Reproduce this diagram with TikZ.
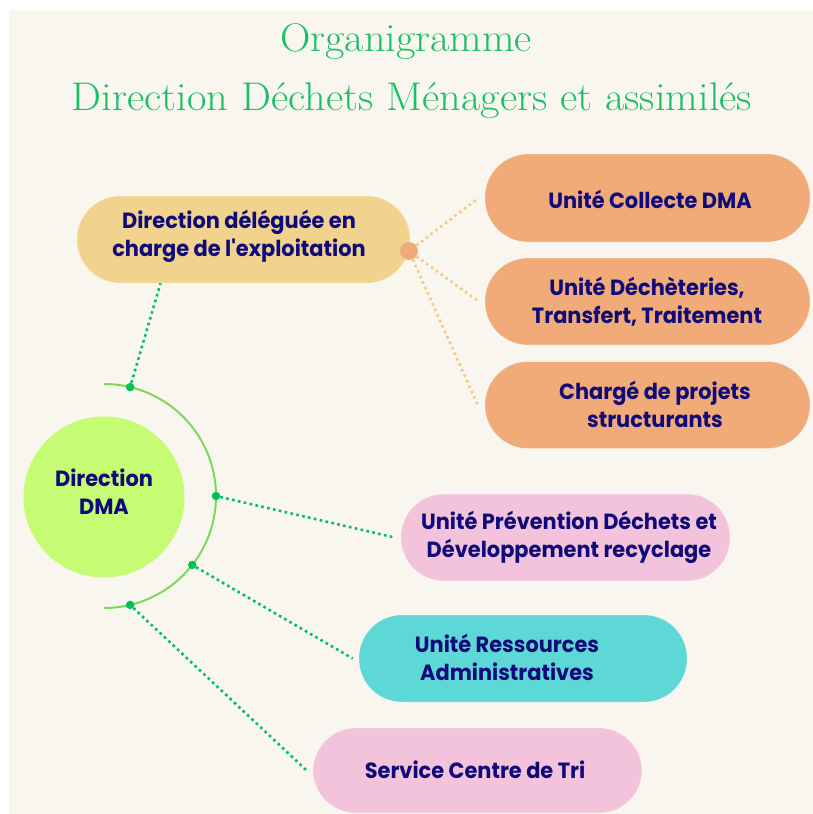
\documentclass[tikz,border=0pt]{standalone}
\usepackage{fontspec}
\newfontfamily\pop{Poppins}[FakeStretch=0.95]
\usetikzlibrary{calc}
\definecolor{bg}{HTML}{F8F6EE}
\definecolor{tgreen}{HTML}{1CC064}
\definecolor{navy}{HTML}{10097A}
\definecolor{dgreen}{HTML}{00C05E}
\definecolor{agreen}{HTML}{7DD85C}
\definecolor{lime}{HTML}{C5FC73}
\definecolor{ylw}{HTML}{F1D38D}
\definecolor{orng}{HTML}{F0AB79}
\definecolor{odot}{HTML}{F5C985}
\definecolor{pink}{HTML}{F2C3DB}
\definecolor{cyan}{HTML}{5DD8D6}
\begin{document}
\begin{tikzpicture}[x=1pt,y=-1pt,
  pill/.style={rounded corners=43pt, minimum height=87pt, inner sep=0pt, draw=white, draw opacity=0.4, line width=0.6pt},
  lbl/.style={align=center, text=navy, font=\pop\bfseries\fontsize{22}{28}\selectfont, inner sep=0pt},
  gdots/.style={dgreen, line width=2.6pt, dash pattern=on 2.6pt off 3.4pt},
  odots/.style={odot, line width=2.6pt, dash pattern=on 2.6pt off 3.4pt},
  arcdot/.style={circle, fill=dgreen, minimum size=8.5pt, inner sep=0pt},
  ttl/.style={text=tgreen, font=\fontsize{40}{40}\selectfont, inner sep=0pt, anchor=base}]
\useasboundingbox (0,0) rectangle (813,814);
\fill[white] (0,0) rectangle (813,814);
\fill[bg] (9,10) rectangle (813,814);
% title
\node[ttl] (t1) at (406,51) {\resizebox{252pt}{\height}{Organigramme}};
\node[ttl] (t2) at (412,110) {\resizebox{680pt}{\height}{Direction Déchets Ménagers et assimilés}};
% central circle and arc
\node[circle, fill=lime, minimum size=161pt, inner sep=0pt] (dma) at (104,497) {};
\node[lbl] (dmat) at (104,492) {Direction\\DMA};
\coordinate (c) at (104,496);
\draw[agreen, line width=2pt] (c) ++(-90:112) arc[start angle=-90, end angle=90, radius=112];
% pills
\node[pill, fill=ylw, minimum width=333pt] (deleg) at (243.5,239.5) {};
\node[lbl] (delegt) at (239,236) {Direction déléguée en\\charge de l'exploitation};
\node[pill, fill=orng, minimum width=325pt, minimum height=88pt] (u1) at (647.5,198) {};
\node[lbl] (u1t) at (650,199) {Unité Collecte DMA};
\node[pill, fill=orng, minimum width=325pt] (u2) at (647.5,301.5) {};
\node[lbl] (u2t) at (647,302) {Unité Déchèteries,\\Transfert, Traitement};
\node[pill, fill=orng, minimum width=325pt] (u3) at (647.5,405) {};
\node[lbl] (u3t) at (655,404) {Chargé de projets\\structurants};
\node[pill, fill=pink, minimum width=329pt] (prev) at (565.5,537.5) {};
\node[lbl] (prevt) at (569,537) {Unité Prévention Déchets et\\Développement recyclage};
\node[pill, fill=cyan, minimum width=328pt] (ura) at (523,658.5) {};
\node[lbl] (urat) at (507,657) {Unité Ressources\\Administratives};
\node[pill, fill=pink, minimum width=329pt, minimum height=85pt] (sct) at (477.5,770.5) {};
\node[lbl] (sctt) at (475,770) {Service Centre de Tri};
% orange hub and connectors
\node[circle, fill=orng, minimum size=18pt, inner sep=0pt] (od) at (409,251) {};
\draw[odots] (od) -- ([xshift=-6pt]u1.west);
\draw[odots] (od) -- ([xshift=-6pt]u2.west);
\draw[odots] (od) -- ([xshift=-7pt]u3.west);
% arc dots
\node[arcdot] (d1) at ($(c)+(-76.5:112)$) {};
\node[arcdot] (d2) at ($(c)+(0:112)$) {};
\node[arcdot] (d3) at ($(c)+(38:112)$) {};
\node[arcdot] (d4) at ($(c)+(76.5:112)$) {};
\coordinate (delegb) at ($(deleg.south)+(-83,0)$);
\draw[gdots] (d1) -- (delegb);
\draw[gdots] (d2) -- ([xshift=-6pt]prev.west);
\draw[gdots] (d3) -- ([xshift=-6pt]ura.west);
\draw[gdots] (d4) -- ([xshift=-6pt]sct.west);
\end{tikzpicture}
\end{document}
